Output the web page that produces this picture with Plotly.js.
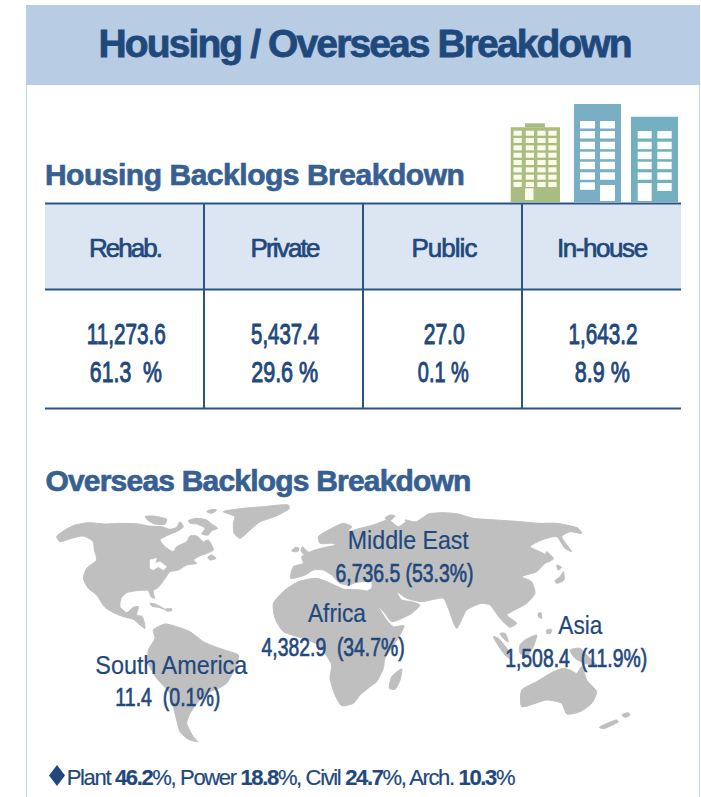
<!DOCTYPE html>
<html>
<head>
<meta charset="utf-8">
<script src="https://cdn.plot.ly/plotly-3.0.1.min.js"></script>
<style>html,body{margin:0;padding:0;background:#fff}</style>
</head>
<body>
<div id="chart" style="width:701px;height:797px"></div>
<script>
// ---- data ----
const headerLabels = ["Rehab.", "Private", "Public", "In-house"];
const housingValues = ["11,273.6", "5,437.4", "27.0", "1,643.2"];
const housingShares = ["61.3\u00a0\u00a0%", "29.6 %", "0.1 %", "8.9 %"];
const regionNames = ["Middle East", "Africa", "Asia", "South America"];
const regionValues = ["6,736.5 (53.3%)", "4,382.9\u00a0\u00a0(34.7%)", "1,508.4\u00a0\u00a0(11.9%)", "11.4\u00a0\u00a0(0.1%)"];
const footerText = "Plant <b>46.2</b>%, Power <b>18.8</b>%, Civil <b>24.7</b>%, Arch. <b>10.3</b>%";

// landmass outlines, [x, y] in map units
const landmasses = [
 // North America
 [[5,110],[30,90],[60,75],[100,68],[150,72],[200,70],[250,72],[280,78],[320,80],[345,88],[365,82],[375,65],[385,80],[370,92],[340,105],[315,120],[330,140],[355,155],[365,140],[395,125],[405,108],[425,108],[445,125],[460,120],[475,150],[455,160],[430,170],[415,180],[425,190],[395,195],[370,210],[345,215],[330,235],[310,262],[295,272],[298,295],[288,290],[280,272],[245,272],[215,278],[198,295],[195,320],[215,338],[235,322],[250,320],[245,345],[262,350],[270,385],[255,375],[235,358],[205,350],[170,335],[148,320],[125,285],[100,265],[85,235],[95,205],[125,180],[118,150],[115,125],[85,108],[50,115],[15,125]],
 // Arctic islands
 [[270,50],[295,48],[335,58],[330,72],[300,72],[280,62]],
 [[400,62],[425,55],[455,60],[470,72],[488,85],[470,92],[460,105],[440,102],[450,85],[425,72],[405,70]],
 [[455,35],[470,28],[485,30],[470,40]],
 // Greenland
 [[505,35],[565,25],[625,20],[700,15],[703,25],[670,45],[645,55],[615,65],[585,90],[555,115],[537,100],[535,70],[540,50]],
 // Newfoundland, Caribbean
 [[458,172],[470,165],[483,175],[465,180]],
 [[285,310],[300,312],[320,322],[330,328],[310,322],[290,318]],
 [[330,328],[350,326],[350,332],[335,333]],
 // South America
 [[295,390],[330,372],[365,380],[405,395],[445,425],[480,440],[515,452],[550,465],[543,500],[515,550],[500,560],[455,580],[430,605],[405,640],[395,670],[415,710],[428,725],[400,718],[375,695],[365,660],[355,620],[345,580],[305,535],[280,490],[280,450],[300,415]],
 // Ireland, Britain
 [[710,153],[722,142],[732,145],[728,155]],
 [[742,140],[752,150],[765,160],[745,162],[738,150]],
 // Eurasia
 [[707,235],[715,200],[745,190],[740,170],[780,150],[820,140],[845,135],[830,130],[795,130],[790,110],[830,85],[865,70],[890,80],[877,95],[915,85],[955,75],[1000,60],[1030,80],[1055,65],[1085,65],[1120,42],[1165,38],[1210,42],[1255,55],[1325,60],[1395,65],[1455,70],[1505,70],[1570,85],[1580,100],[1545,95],[1520,110],[1550,155],[1530,145],[1505,110],[1460,120],[1425,140],[1465,160],[1490,180],[1470,190],[1445,215],[1400,230],[1430,245],[1440,280],[1415,310],[1370,335],[1355,345],[1385,370],[1365,382],[1335,355],[1305,315],[1280,310],[1235,330],[1205,385],[1180,325],[1165,295],[1100,305],[1055,295],[1025,275],[1040,300],[1070,305],[1095,315],[1070,340],[1010,365],[990,340],[935,275],[950,265],[950,245],[905,247],[880,255],[855,250],[830,225],[805,210],[775,210],[750,225]],
 // Africa
 [[655,310],[690,270],[730,245],[785,235],[820,247],[865,267],[915,270],[940,275],[960,305],[995,360],[1015,380],[1047,377],[1035,405],[990,475],[985,505],[965,545],[945,560],[915,585],[895,610],[860,617],[840,585],[825,535],[830,495],[810,460],[790,435],[745,415],[685,395],[660,355]],
 // Madagascar
 [[1040,507],[1035,540],[1020,568],[1003,565],[1010,530]],
 // Japan, Sakhalin
 [[1505,195],[1520,202],[1510,210]],
 [[1525,215],[1527,240],[1505,250],[1500,242],[1515,230]],
 [[1475,155],[1495,175],[1492,180],[1472,162]],
 // Philippines
 [[1450,340],[1458,338],[1460,355],[1450,350]],
 [[1475,390],[1490,388],[1487,400],[1475,400]],
 // Indonesia, New Guinea
 [[1315,410],[1330,415],[1365,460],[1370,480],[1350,465]],
 [[1335,400],[1350,400],[1360,425],[1350,420]],
 [[1395,435],[1410,420],[1445,405],[1435,440],[1415,470],[1395,460]],
 [[1545,450],[1575,445],[1600,470],[1625,495],[1590,490],[1560,475]],
 // Australia
 [[1400,570],[1445,545],[1495,515],[1525,505],[1545,510],[1565,520],[1580,500],[1595,540],[1625,575],[1610,610],[1575,635],[1535,642],[1520,610],[1475,600],[1400,620]],
 // New Zealand
 [[1633,682],[1685,660],[1690,665],[1645,686]],
 [[1700,645],[1720,638],[1725,645],[1710,652]],
 // Novaya Zemlya, Svalbard
 [[990,55],[1005,45],[1020,48],[1005,62]],
 [[1050,60],[1070,65],[1075,85]]
];
const lakes = [
 [[285,180],[305,175],[300,190],[315,185],[335,200],[325,210],[310,200],[295,210],[285,205]]
];

// ---- helpers ----
function outline(list){
  const x=[],y=[];
  list.forEach(p=>{p.forEach(q=>{x.push(q[0]);y.push(q[1]);});x.push(p[0][0]);y.push(p[0][1]);x.push(null);y.push(null);});
  return {x,y};
}
const land = outline(landmasses), water = outline(lakes);
const traces = [
 {type:"scatter",mode:"lines",x:land.x,y:land.y,xaxis:"x2",yaxis:"y2",fill:"toself",fillcolor:"#bfbfbf",line:{color:"#bfbfbf",width:1,shape:"spline",smoothing:0.6},hoverinfo:"skip",showlegend:false},
 {type:"scatter",mode:"lines",x:water.x,y:water.y,xaxis:"x2",yaxis:"y2",fill:"toself",fillcolor:"#ffffff",line:{color:"#ffffff",width:0.5},hoverinfo:"skip",showlegend:false}
];

// ---- shapes ----
const shapes=[];
function rect(x0,y0,x1,y1,c){shapes.push({type:"rect",xref:"x",yref:"y",x0,y0,x1,y1,fillcolor:c,line:{width:0},layer:"below"});}
function line(x0,y0,x1,y1,c,w){shapes.push({type:"line",xref:"x",yref:"y",x0,y0,x1,y1,line:{color:c,width:w},layer:"below"});}
const BLUE="#2a5487";
rect(26,5,700,85,"#b8cce4");
line(26.5,85,26.5,797,"#c5d5e9",1);
line(699.5,85,699.5,797,"#c5d5e9",1);
// footer bullet
shapes.push({type:"path",xref:"x",yref:"y",path:"M49,775.5L57,765L65,775.5L57,786Z",fillcolor:"#1f497d",line:{width:0},layer:"below"});
// buildings
rect(510.7,127.3,560,202,"#a9bd82"); rect(525,123.3,545,127.3,"#a9bd82");
[513.5,525.7,537.3,548.3].forEach(x=>{for(let r=0;r<8;r++){const y=130.7+r*7.33;rect(x,y,x+8.3,y+5,"#fbfce8");}});
rect(525,188.3,533.5,200,"#fbfce8");
rect(574,104,621,202,"#7aaec4");
[121,131,141.7,151.7,161.7,172.3,182.3].forEach(y=>rect(580,y,595,y+7.5,"#fdfefe"));
[121,131,141.7,151.7,161.7,172.3].forEach(y=>rect(600,y,615,y+7.5,"#fdfefe"));
rect(600,185,615,201,"#fdfefe");
rect(631,116.7,678,202,"#72b0bf");
[131,141.7,151.7,161.7,172.3].forEach(y=>{rect(637.7,y,651.7,y+7.5,"#fdfefe");rect(657.3,y,671.7,y+7.5,"#fdfefe");});
rect(637.7,183,651.7,201,"#fdfefe"); rect(657.3,183,671.7,191,"#fdfefe");
// table
rect(45,203.5,681,289.5,"#dce6f2");
line(45,203.5,681,203.5,BLUE,2);
line(45,289.5,681,289.5,BLUE,2);
line(45,408.5,681,408.5,BLUE,2);
[204,363,522].forEach(x=>line(x,203,x,409,BLUE,2));

// ---- text ----
const DARK="#1f497d", MID="#376092";
const texts=[]; const fit=[];
function label(text,x0,x1,y,size,color,bold,stroke,adjust){
  texts.push({text,x:(x0+x1)/2,y,xref:"x",yref:"y",xanchor:"center",yanchor:"middle",showarrow:false,
    font:{family:"Liberation Sans, Arial, sans-serif",size,color,weight:bold?700:400}});
  fit.push({w:x1-x0,stroke:stroke||0,color,adjust:adjust||"spacingAndGlyphs"});
}
label("Housing / Overseas Breakdown",98,632,43.5,39,DARK,true,0.8,"spacing");
label("Housing Backlogs Breakdown",45,465,174,30,MID,true,0.7,"spacing");
label("Overseas Backlogs Breakdown",45,471,480,30,MID,true,0.7,"spacing");
const hx=[[89,163],[250,320],[411,477],[557,648]];
const vx=[[87,166],[251,319],[423,464],[568,637]];
const px=[[90,162],[251,318],[418,469],[575,630]];
headerLabels.forEach((t,i)=>label(t,hx[i][0],hx[i][1],248,26,DARK,false,0.7,"spacing"));
housingValues.forEach((t,i)=>label(t,vx[i][0],vx[i][1],333,30,DARK,false,1));
housingShares.forEach((t,i)=>label(t,px[i][0],px[i][1],371,30,DARK,false,1));
const nameBox=[[348,469,540],[308,366,613],[558,602,625],[95,247,665]];
const valBox=[[335,473,573],[261,404,647],[505,647,658],[115,220,697]];
regionNames.forEach((t,i)=>label(t,nameBox[i][0],nameBox[i][1],nameBox[i][2],25,DARK,false,0.2));
regionValues.forEach((t,i)=>label(t,valBox[i][0],valBox[i][1],valBox[i][2],26,DARK,false,0.7));
texts.push({text:footerText,x:290.5,y:777,xref:"x",yref:"y",xanchor:"center",yanchor:"middle",showarrow:false,
  font:{family:"Liberation Sans, Arial, sans-serif",size:22,color:DARK}});
fit.push({mixed:true,color:DARK});

const hidden={visible:false,fixedrange:true};
const layout={
  width:701,height:797,margin:{l:0,r:0,t:0,b:0,pad:0},paper_bgcolor:"#ffffff",plot_bgcolor:"#ffffff",showlegend:false,
  xaxis:{...hidden,range:[0,701]},
  yaxis:{...hidden,range:[797,0]},
  xaxis2:{...hidden,range:[-165,1938],overlaying:"x"},
  yaxis2:{...hidden,range:[891,-1500],overlaying:"y"},
  shapes,annotations:texts
};
Plotly.newPlot("chart",traces,layout,{displayModeBar:false,staticPlot:true}).then(gd=>{
  gd.querySelectorAll(".annotation").forEach((a,i)=>{
    const t=a.querySelector("text"); const f=fit[i]; if(!t||!f) return;
    if(f.mixed){t.style.letterSpacing="-1.35px";t.style.stroke=f.color;t.style.strokeWidth="0.2px";return;}
    t.setAttribute("textLength",f.w);
    t.setAttribute("lengthAdjust",f.adjust);
    if(f.stroke){t.style.stroke=f.color;t.style.strokeWidth=f.stroke+"px";}
  });
});
</script>
</body>
</html>
